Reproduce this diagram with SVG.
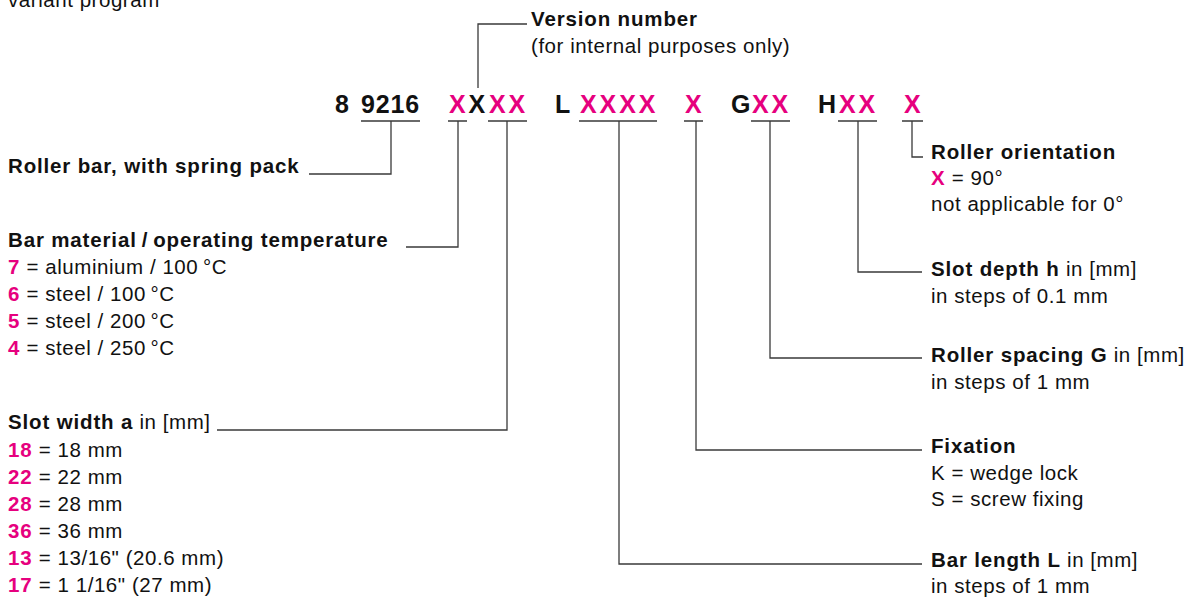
<svg xmlns="http://www.w3.org/2000/svg" width="1191" height="599" viewBox="0 0 1191 599">
<style>
  text { font-family: "Liberation Sans", Arial, sans-serif; fill: #111; }
  .r { font-size: 20.5px; letter-spacing: 0.55px; }
  .b { font-size: 20.5px; font-weight: bold; letter-spacing: 0.85px; }
  .rn { font-weight: normal; letter-spacing: 0.55px; }
  .pk { fill: #e6007e; font-weight: bold; letter-spacing: 0.85px; }
  .code { font-size: 25px; font-weight: bold; }
  .cx { letter-spacing: 2.9px; }
  .cd { letter-spacing: 0.85px; }
  .ln { fill: none; stroke: #3a3a3a; stroke-width: 1.3; }
</style>
<rect width="1191" height="599" fill="#fff"/>

<g id="title"><text class="r" x="8" y="7">variant program</text></g>

<g id="code">
  <text class="code" y="113">
    <tspan x="335">8</tspan>
    <tspan x="361" class="cd">9216</tspan>
    <tspan x="449" class="pk cx">X</tspan>
    <tspan x="468.5" class="cx">X</tspan>
    <tspan x="489" class="pk cx">XX</tspan>
    <tspan x="555">L</tspan>
    <tspan x="580" class="pk cx">XXXX</tspan>
    <tspan x="685" class="pk cx">X</tspan>
    <tspan x="731">G</tspan>
    <tspan x="752" class="pk cx">XX</tspan>
    <tspan x="818">H</tspan>
    <tspan x="839" class="pk cx">XX</tspan>
    <tspan x="904" class="pk cx">X</tspan>
  </text>
</g>

<g id="connectors">
  <path class="ln" d="M361 121H420 M448 121H467 M488 121H527 M579 121H657 M684 121H703 M751 121H790 M838 121H877 M902 121H923"/>
  <path class="ln" d="M391 121V174H309"/>
  <path class="ln" d="M458 121V247H406"/>
  <path class="ln" d="M507 121V430H217"/>
  <path class="ln" d="M478 88V24H527"/>
  <path class="ln" d="M619 121V564H922"/>
  <path class="ln" d="M696 121V450H922"/>
  <path class="ln" d="M770 121V358H922"/>
  <path class="ln" d="M858 121V272H922"/>
  <path class="ln" d="M912 121V157H923"/>
</g>

<g id="version">
  <text class="b" x="531" y="26">Version number</text>
  <text class="r" x="531" y="53">(for internal purposes only)</text>
</g>

<g id="roller-bar">
  <text class="b" x="8" y="173">Roller bar, with spring pack</text>
</g>

<g id="bar-material">
  <text class="b" x="8" y="247">Bar material&#8201;/&#8201;operating temperature</text>
  <text class="r" x="8" y="274"><tspan class="pk">7</tspan> = aluminium / 100&#8201;°C</text>
  <text class="r" x="8" y="301"><tspan class="pk">6</tspan> = steel / 100&#8201;°C</text>
  <text class="r" x="8" y="328"><tspan class="pk">5</tspan> = steel / 200&#8201;°C</text>
  <text class="r" x="8" y="355"><tspan class="pk">4</tspan> = steel / 250&#8201;°C</text>
</g>

<g id="slot-width">
  <text class="b" x="8" y="429">Slot width a<tspan class="rn"> in [mm]</tspan></text>
  <text class="r" x="8" y="457"><tspan class="pk">18</tspan> = 18 mm</text>
  <text class="r" x="8" y="484"><tspan class="pk">22</tspan> = 22 mm</text>
  <text class="r" x="8" y="511"><tspan class="pk">28</tspan> = 28 mm</text>
  <text class="r" x="8" y="538"><tspan class="pk">36</tspan> = 36 mm</text>
  <text class="r" x="8" y="565"><tspan class="pk">13</tspan> = 13/16" (20.6 mm)</text>
  <text class="r" x="8" y="592"><tspan class="pk">17</tspan> = 1 1/16" (27 mm)</text>
</g>

<g id="roller-orientation">
  <text class="b" x="931" y="159">Roller orientation</text>
  <text class="r" x="931" y="185"><tspan class="pk">X</tspan> = 90°</text>
  <text class="r" x="931" y="211">not applicable for 0°</text>
</g>

<g id="slot-depth">
  <text class="b" x="931" y="276">Slot depth h<tspan class="rn"> in [mm]</tspan></text>
  <text class="r" x="931" y="303">in steps of 0.1 mm</text>
</g>

<g id="roller-spacing">
  <text class="b" x="931" y="362">Roller spacing G<tspan class="rn"> in [mm]</tspan></text>
  <text class="r" x="931" y="389">in steps of 1 mm</text>
</g>

<g id="fixation">
  <text class="b" x="931" y="453">Fixation</text>
  <text class="r" x="931" y="480">K = wedge lock</text>
  <text class="r" x="931" y="506">S = screw fixing</text>
</g>

<g id="bar-length">
  <text class="b" x="931" y="567">Bar length L<tspan class="rn"> in [mm]</tspan></text>
  <text class="r" x="931" y="593">in steps of 1 mm</text>
</g>
</svg>
